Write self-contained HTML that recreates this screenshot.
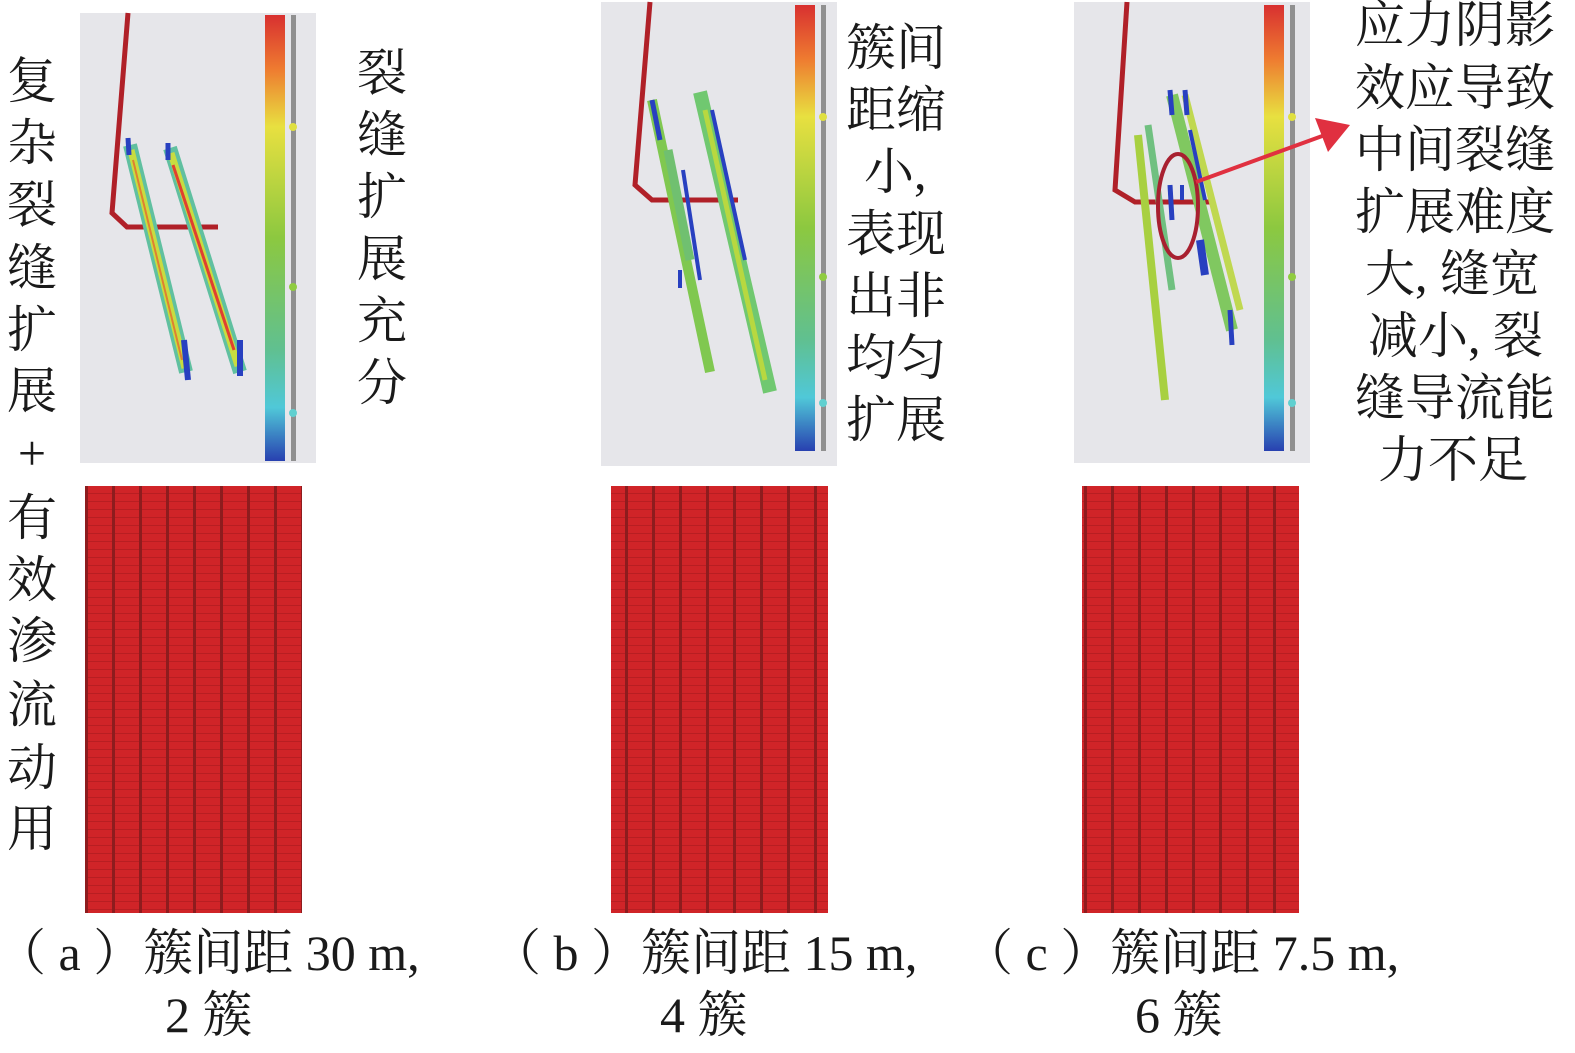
<!DOCTYPE html>
<html><head><meta charset="utf-8"><style>
html,body{margin:0;padding:0;background:#fff;}
svg{display:block}
text{font-family:"Liberation Serif","Noto Serif CJK SC",serif;fill:#1a1a1a;}
</style></head><body>
<svg width="1575" height="1053" viewBox="0 0 1575 1053" xmlns="http://www.w3.org/2000/svg">
<defs>
<linearGradient id="cb" x1="0" y1="0" x2="0" y2="1">
<stop offset="0" stop-color="#d83030"/><stop offset="0.12" stop-color="#ee7a30"/><stop offset="0.25" stop-color="#e8e040"/><stop offset="0.5" stop-color="#8cc840"/><stop offset="0.75" stop-color="#60c090"/><stop offset="0.88" stop-color="#50c8d8"/><stop offset="1" stop-color="#2840b0"/>
</linearGradient>
<pattern id="rg" width="27" height="8" patternUnits="userSpaceOnUse" x="85" y="486">
<rect width="27" height="8" fill="#d02428"/><rect y="7" width="27" height="1" fill="#b81e22"/><rect x="0" width="3" height="8" fill="#8e1c1e"/>
</pattern>
<g id="cbar">
<rect x="0" y="0" width="20" height="446" fill="url(#cb)"/>
<rect x="26" y="0" width="5" height="446" fill="#909090"/>
<circle cx="28" cy="112" r="4" fill="#e0e040"/><circle cx="28" cy="272" r="4" fill="#90cc40"/><circle cx="28" cy="398" r="4" fill="#60d0d0"/>
</g>
</defs>

<rect x="80" y="13" width="236" height="450" fill="#e6e6ea"/>
<use href="#cbar" x="265" y="15"/>
<polyline points="128,13 112,213 127,227 218,227" fill="none" stroke="#b02028" stroke-width="5"/>
<g>
<line x1="130" y1="145" x2="186" y2="372" stroke="#60c0a0" stroke-width="14"/>
<line x1="131" y1="150" x2="185" y2="368" stroke="#c8dc40" stroke-width="7"/>
<line x1="133" y1="160" x2="182" y2="360" stroke="#e08030" stroke-width="2"/>
<line x1="170" y1="148" x2="240" y2="372" stroke="#60c0a0" stroke-width="14"/>
<line x1="171" y1="153" x2="238" y2="366" stroke="#c8dc40" stroke-width="7"/>
<line x1="173" y1="165" x2="234" y2="350" stroke="#e04030" stroke-width="3"/>
<line x1="184" y1="340" x2="188" y2="380" stroke="#2840c0" stroke-width="6"/>
<line x1="240" y1="340" x2="240" y2="376" stroke="#2840c0" stroke-width="6"/>
<line x1="128" y1="138" x2="129" y2="155" stroke="#2840c0" stroke-width="5"/>
<line x1="168" y1="143" x2="168" y2="160" stroke="#2840c0" stroke-width="5"/>
</g>
<rect x="85" y="486" width="217" height="427" fill="url(#rg)"/>

<rect x="601" y="2" width="236" height="464" fill="#e6e6ea"/>
<use href="#cbar" x="795" y="5"/>
<polyline points="650,2 635,185 652,200 738,200" fill="none" stroke="#b02028" stroke-width="5"/>
<g>
<line x1="652" y1="100" x2="710" y2="372" stroke="#80c850" stroke-width="10"/>
<line x1="652" y1="100" x2="660" y2="140" stroke="#2840c0" stroke-width="5"/>
<line x1="668" y1="150" x2="690" y2="260" stroke="#70c070" stroke-width="9"/>
<line x1="683" y1="170" x2="700" y2="280" stroke="#2840c0" stroke-width="4"/>
<line x1="700" y1="92" x2="770" y2="392" stroke="#70c870" stroke-width="14"/>
<line x1="705" y1="110" x2="765" y2="380" stroke="#b8d840" stroke-width="5"/>
<line x1="712" y1="110" x2="745" y2="260" stroke="#2840c0" stroke-width="4"/>
<line x1="680" y1="270" x2="680" y2="288" stroke="#2840c0" stroke-width="4"/>
</g>
<rect x="611" y="486" width="217" height="427" fill="url(#rg)"/>

<rect x="1074" y="2" width="236" height="461" fill="#e6e6ea"/>
<use href="#cbar" x="1264" y="5"/>
<polyline points="1127,2 1115,190 1135,202 1215,202" fill="none" stroke="#b02028" stroke-width="5"/>
<g>
<line x1="1138" y1="135" x2="1165" y2="400" stroke="#a8d040" stroke-width="8"/>
<line x1="1148" y1="125" x2="1172" y2="290" stroke="#70c080" stroke-width="7"/>
<line x1="1172" y1="95" x2="1232" y2="330" stroke="#80c860" stroke-width="12"/>
<line x1="1185" y1="95" x2="1240" y2="310" stroke="#c0d850" stroke-width="7"/>
<line x1="1170" y1="90" x2="1172" y2="115" stroke="#2840c0" stroke-width="5"/>
<line x1="1185" y1="90" x2="1187" y2="115" stroke="#2840c0" stroke-width="5"/>
<line x1="1190" y1="130" x2="1205" y2="200" stroke="#2840c0" stroke-width="4"/>
<line x1="1200" y1="240" x2="1205" y2="275" stroke="#2840c0" stroke-width="8"/>
<line x1="1170" y1="185" x2="1172" y2="220" stroke="#2840c0" stroke-width="5"/>
<line x1="1182" y1="185" x2="1182" y2="200" stroke="#2840c0" stroke-width="4"/>
<line x1="1230" y1="310" x2="1232" y2="345" stroke="#2840c0" stroke-width="5"/>
</g>
<ellipse cx="1178" cy="206" rx="20" ry="52" fill="none" stroke="#a82030" stroke-width="4"/>
<line x1="1196" y1="182" x2="1325" y2="135" stroke="#e03040" stroke-width="4"/>
<polygon points="1350,125 1315,118 1328,152" fill="#e03040"/>
<rect x="1082" y="486" width="217" height="427" fill="url(#rg)"/>

<g font-size="50" text-anchor="middle">
<text x="32" y="98">复</text><text x="32" y="160">杂</text><text x="32" y="222">裂</text><text x="32" y="285">缝</text><text x="32" y="347">扩</text><text x="32" y="408">展</text><text x="32" y="470">+</text><text x="32" y="535">有</text><text x="32" y="597">效</text><text x="32" y="658">渗</text><text x="32" y="722">流</text><text x="32" y="785">动</text><text x="32" y="846">用</text>
<text x="382" y="90">裂</text><text x="382" y="152">缝</text><text x="382" y="214">扩</text><text x="382" y="276">展</text><text x="382" y="338">充</text><text x="382" y="400">分</text>
</g>
<g font-size="50">
<text x="846" y="65">簇间</text><text x="846" y="127">距缩</text><text x="864" y="189">小,</text><text x="846" y="251">表现</text><text x="846" y="313">出非</text><text x="846" y="375">均匀</text><text x="846" y="437">扩展</text>
<text x="1355" y="42">应力阴影</text><text x="1355" y="105">效应导致</text><text x="1355" y="167">中间裂缝</text><text x="1355" y="229">扩展难度</text><text x="1365" y="291">大, 缝宽</text><text x="1368" y="353">减小, 裂</text><text x="1355" y="415">缝导流能</text><text x="1378" y="477">力不足</text>
</g>
<g font-size="50">
<text x="-4" y="970">（ a ）簇间距 30 m,</text><text x="165" y="1032">2 簇</text>
<text x="491" y="970">（ b ）簇间距 15 m,</text><text x="660" y="1032">4 簇</text>
<text x="963" y="970">（ c ）簇间距 7.5 m,</text><text x="1135" y="1032">6 簇</text>
</g>
</svg>
</body></html>
